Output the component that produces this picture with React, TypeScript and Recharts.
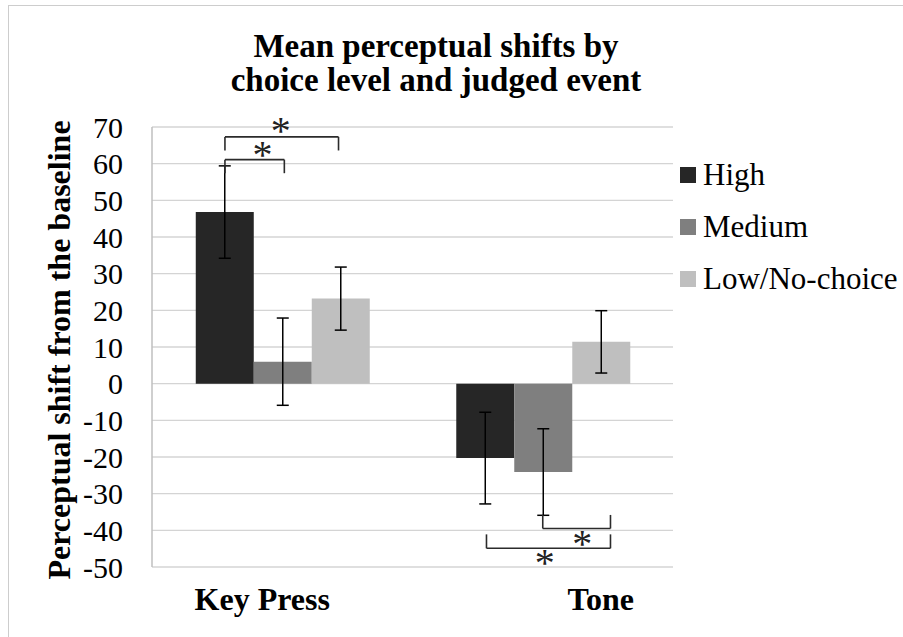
import {
  Bar,
  BarChart,
  CartesianGrid,
  ErrorBar,
  Legend,
  ReferenceDot,
  ReferenceLine,
  XAxis,
  YAxis,
} from 'recharts'

// judged event
const events = ['Key Press', 'Tone']
const levels = ['High', 'Medium', 'Low/No-choice']

// mean shift per choice level, and the error bar half-widths
const high = [46.8, -20.3]
const highErr = [12.6, 12.5]
const medium = [6.0, -24.1]
const mediumErr = [11.9, 11.8]
const low = [23.2, 11.4]
const lowErr = [8.6, 8.5]

const yTicks = [-50, -40, -30, -20, -10, 0, 10, 20, 30, 40, 50, 60, 70]

// significance brackets, x as a fraction of the plot width
const bracketX1 = [0.14, 0.14, 0.75, 0.642]
const bracketX2 = [0.358, 0.254, 0.88, 0.88]
const bracketY = [67.3, 61.1, -39.5, -44.9]
const bracketEnd = [63.6, 57.4, -35.8, -41.1]

const starX = [0.247, 0.212, 0.826, 0.754]
const starY = [70.4, 63.8, -42.4, -47.5]

const data = events.map((name, i) => ({
  name,
  high: high[i],
  highErr: highErr[i],
  medium: medium[i],
  mediumErr: mediumErr[i],
  low: low[i],
  lowErr: lowErr[i],
}))

const FONT = '"Liberation Serif", "Times New Roman", serif'

// the category labels sit off-centre under each group
const labelShift: Record<string, number> = { 'Key Press': -20, Tone: 58 }

const EventTick = (props: any) => {
  const { x, y, payload } = props
  return (
    <text
      x={x + (labelShift[payload.value] || 0)}
      y={y + 43}
      textAnchor="middle"
      fontFamily={FONT}
      fontSize={32}
      fontWeight="bold"
      fill="#000"
    >
      {payload.value}
    </text>
  )
}

const LegendList = (props: any) => {
  const items = [...(props.payload || [])].sort(
    (a: any, b: any) => levels.indexOf(a.value) - levels.indexOf(b.value),
  )
  return (
    <div style={{ fontFamily: FONT }}>
      {items.map((entry: any) => (
        <div key={entry.value} style={{ display: 'flex', alignItems: 'center', height: 52 }}>
          <span style={{ width: 16, height: 16, background: entry.color, marginRight: 7 }} />
          <span style={{ fontSize: 31, color: '#000', whiteSpace: 'nowrap' }}>{entry.value}</span>
        </div>
      ))}
    </div>
  )
}

const bracketStroke = { stroke: '#2b2b2b', strokeWidth: 1.6 }

const brackets = bracketY.flatMap((y, i) => [
  <ReferenceLine
    key={`bl${i}`}
    xAxisId="pos"
    ifOverflow="visible"
    segment={[{ x: bracketX1[i], y: bracketEnd[i] }, { x: bracketX1[i], y }]}
    {...bracketStroke}
  />,
  <ReferenceLine
    key={`bh${i}`}
    xAxisId="pos"
    ifOverflow="visible"
    segment={[{ x: bracketX1[i], y }, { x: bracketX2[i], y }]}
    {...bracketStroke}
  />,
  <ReferenceLine
    key={`br${i}`}
    xAxisId="pos"
    ifOverflow="visible"
    segment={[{ x: bracketX2[i], y }, { x: bracketX2[i], y: bracketEnd[i] }]}
    {...bracketStroke}
  />,
])

const stars = starX.map((x, i) => (
  <ReferenceDot
    key={`s${i}`}
    xAxisId="pos"
    x={x}
    y={starY[i]}
    r={0}
    fill="none"
    stroke="none"
    ifOverflow="visible"
    label={{ value: '*', position: 'center', fontSize: 40, fill: '#222', fontFamily: FONT, dy: 4 }}
  />
))

const App = () => {
  return (
    <div style={{ position: 'relative', width: 903, height: 637, background: '#fff', overflow: 'hidden' }}>
      <style>{'body{margin:0;overflow:hidden}'}</style>
      <div
        style={{
          position: 'absolute',
          left: 8,
          top: 5,
          width: 895,
          height: 632,
          borderLeft: '1.5px solid #cdcdcd',
          borderTop: '1.5px solid #cdcdcd',
        }}
      />
      <div
        style={{
          position: 'absolute',
          left: 0,
          top: 29,
          width: 872,
          textAlign: 'center',
          fontFamily: FONT,
          fontWeight: 'bold',
          fontSize: 33,
          lineHeight: '34px',
        }}
      >
        Mean perceptual shifts by
        <br />
        choice level and judged event
      </div>
      <div style={{ position: 'absolute', left: 0, top: 0 }}>
        <BarChart
          width={903}
          height={637}
          data={data}
          margin={{ top: 127, right: 230, bottom: 0, left: 0 }}
          barCategoryGap="16.8%"
          barGap={0}
        >
          <CartesianGrid vertical={false} stroke="#d4d4d4" strokeWidth={1.3} />
          <XAxis
            dataKey="name"
            axisLine={false}
            tickLine={false}
            tickSize={0}
            tickMargin={0}
            height={70}
            interval={0}
            tick={<EventTick />}
          />
          <XAxis xAxisId="pos" type="number" domain={[0, 1]} allowDataOverflow hide />
          <YAxis
            width={152}
            domain={[-50, 70]}
            ticks={yTicks}
            interval={0}
            allowDataOverflow
            axisLine={{ stroke: '#bfbfbf', strokeWidth: 1.5 }}
            tickLine={false}
            tickSize={0}
            tickMargin={29}
            tick={{ fontFamily: FONT, fontSize: 30, fill: '#000' }}
            label={{
              content: () => (
                <text
                  transform="translate(70, 350) rotate(-90)"
                  textAnchor="middle"
                  fontFamily={FONT}
                  fontSize={32}
                  fontWeight="bold"
                  fill="#000"
                >
                  Perceptual shift from the baseline
                </text>
              ),
            }}
          />
          <Legend
            layout="vertical"
            align="center"
            verticalAlign="middle"
            wrapperStyle={{ left: 680, top: 149, width: 223 }}
            content={<LegendList />}
          />
          <Bar dataKey="high" name="High" fill="#262626" isAnimationActive={false}>
            <ErrorBar dataKey="highErr" width={6} stroke="#000" strokeWidth={1.5} direction="y" />
          </Bar>
          <Bar dataKey="medium" name="Medium" fill="#7f7f7f" isAnimationActive={false}>
            <ErrorBar dataKey="mediumErr" width={6} stroke="#000" strokeWidth={1.5} direction="y" />
          </Bar>
          <Bar dataKey="low" name="Low/No-choice" fill="#bfbfbf" isAnimationActive={false}>
            <ErrorBar dataKey="lowErr" width={6} stroke="#000" strokeWidth={1.5} direction="y" />
          </Bar>
          {brackets}
          {stars}
        </BarChart>
      </div>
    </div>
  )
}

export default App
